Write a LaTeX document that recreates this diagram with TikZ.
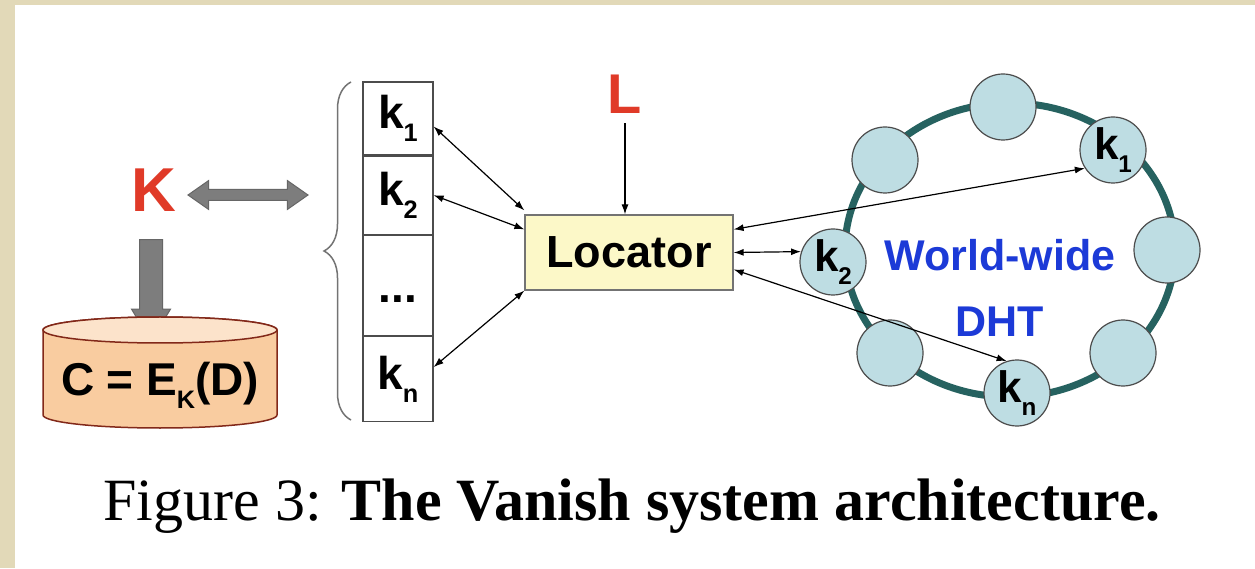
\documentclass[tikz,border=0pt]{standalone}
\usepackage{fontspec}
\usepackage{graphicx}
\setmainfont{Liberation Serif}
\setsansfont{Liberation Sans}
\usetikzlibrary{arrows.meta,shapes.arrows,decorations.pathreplacing,positioning}

\definecolor{bgtan}{RGB}{226,217,184}
\definecolor{keyred}{RGB}{224,58,40}
\definecolor{arrowgray}{RGB}{125,125,125}
\definecolor{cipherfill}{RGB}{249,204,160}
\definecolor{cipherline}{RGB}{130,40,25}
\definecolor{locfill}{RGB}{252,248,200}
\definecolor{ringteal}{RGB}{38,98,96}
\definecolor{peerfill}{RGB}{190,221,227}
\definecolor{dhtblue}{RGB}{28,58,215}

\newcommand{\bigsans}[1]{\fontsize{#1}{#1}\selectfont\sffamily\bfseries}
\newcommand{\idx}[1]{\kern-0.5pt\raisebox{-0.28em}{\scalebox{0.55}{#1}}}

\begin{document}
\begin{tikzpicture}[x=1pt, y=1pt,
    keybox/.style={rectangle, draw=black!70, line width=1.2pt, minimum width=70pt, inner sep=0pt, font=\bigsans{46}},
    peer/.style={circle, draw=black!70, fill=peerfill, line width=1.2pt, minimum size=66pt, inner sep=0pt, font=\bigsans{44}},
    link/.style={{Latex[length=10pt,width=7pt]}-{Latex[length=10pt,width=7pt]}, line width=1.2pt},
    fatarrow/.style={draw=black!60, fill=arrowgray, line width=1pt, inner xsep=0pt}]

    \fill[bgtan] (0,0) rectangle (1255,568);
    \fill[white] (15,0) rectangle (1255,563);
    \useasboundingbox (0,0) rectangle (1255,568);

    \node[font=\bigsans{62}, text=keyred, inner sep=2pt] (K) at (154,378) {K};
    \node[fatarrow, double arrow, inner ysep=5pt, double arrow head extend=9pt, double arrow tip angle=70, minimum height=120pt] (swap) at (248,373) {};
    \node[fatarrow, single arrow, inner ysep=11pt, single arrow head extend=8pt, single arrow tip angle=62, minimum height=102pt, rotate=-90] (encrypt) at (151,287) {};

    \filldraw[fill=cipherfill, draw=cipherline, line width=1.5pt] (43pt,238pt) -- (43pt,153pt) arc[start angle=180, end angle=360, x radius=117pt, y radius=13pt] -- (277pt,238pt) arc[start angle=0, end angle=180, x radius=117pt, y radius=13pt] -- cycle;
    \filldraw[fill=cipherfill!55!white, draw=cipherline, line width=1.5pt] (160,238) ellipse[x radius=117pt, y radius=13pt];
    \node[font=\bigsans{46}] (cipher) at (160,183) {C = E\idx{K}(D)};

    \draw[decorate, decoration={brace, amplitude=27pt}, black!55, line width=1.5pt] (351,148) -- (351,486);

    \node[keybox, minimum height=73pt] (c1) at (398,449.5) {k\idx{1}};
    \node[keybox, minimum height=78pt, below=0pt of c1] (c2) {k\idx{2}};
    \node[keybox, minimum height=100pt, below=0pt of c2] (cdots) {\vphantom{k}...};
    \node[keybox, minimum height=85pt, below=0pt of cdots] (cn) {k\idx{n}};

    \node[font=\bigsans{56}, text=keyred, inner sep=10pt] (L) at (625,474) {L};
    \node[rectangle, draw=black!55, fill=locfill, line width=1.2pt, minimum width=208pt, minimum height=75pt, font=\bigsans{45}] (loc) at (629,315.5) {Locator};

    \draw[ringteal, line width=7pt] (1010,318) ellipse[x radius=165pt, y radius=147pt];
    \foreach \px/\py [count=\i] in {1003/461, 885/408, 1167/318, 890/215, 1123/215}
        \node[peer] (p\i) at (\px,\py) {};
    \node[peer] (d1) at (1113,418) {k\idx{1}};
    \node[peer] (d2) at (833,306) {k\idx{2}};
    \node[peer] (dn) at (1017,175) {k\idx{n}};
    \node[font=\bigsans{43}, text=dhtblue] (www) at (1000,313) {World-wide};
    \node[font=\bigsans{43}, text=dhtblue] (dht) at (1000,246) {DHT};

    \draw[-{Latex[length=10pt,width=7pt]}, line width=1.2pt] (L.south) -- (L.south |- loc.north);
    \draw[link] ([yshift=-8pt]c1.east) -- ([yshift=4pt]loc.north west);
    \draw[link] (c2.east) -- ([yshift=-15pt]loc.north west);
    \draw[link] ([yshift=12pt]cn.east) -- (loc.south west);
    \draw[link] ([yshift=-15pt]loc.north east) -- (d1.213);
    \draw[link] (loc.east) -- (d2.162);
    \draw[link] ([yshift=-17pt]loc.east) -- (dn.108);

    \node[font=\fontsize{60}{60}\selectfont, anchor=base] (caption) at (632,48) {Figure 3: \textbf{The Vanish system architecture.}};
\end{tikzpicture}
\end{document}
